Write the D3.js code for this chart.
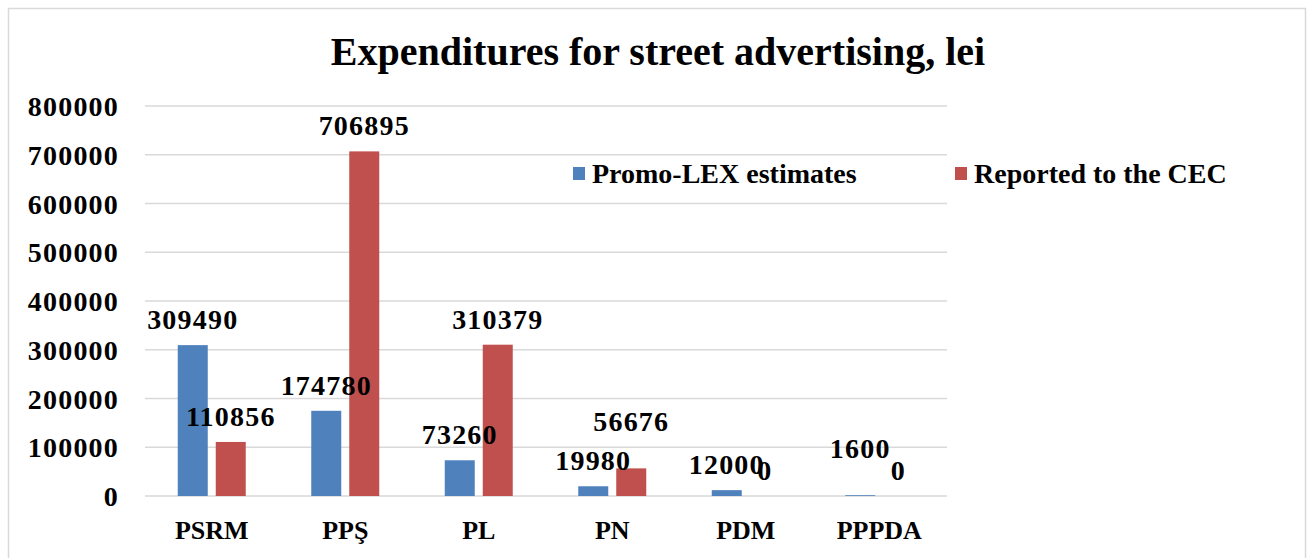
<!DOCTYPE html>
<html>
<head>
<meta charset="utf-8">
<script src="https://cdn.jsdelivr.net/npm/d3@7"></script>
<style>
  body { margin: 0; background: #fff; }
  svg text { font-family: "Liberation Serif", "Times New Roman", serif; font-weight: bold; fill: #000; }
</style>
</head>
<body>
<div id="chart"></div>
<script>
// data
const parties = ['PSRM', 'PPŞ', 'PL', 'PN', 'PDM', 'PPPDA'];
const seriesNames = ['Promo-LEX estimates', 'Reported to the CEC'];
const promoLex = [309490, 174780, 73260, 19980, 12000, 1600];
const reportedCEC = [110856, 706895, 310379, 56676, 0, 0];
const yTicks = [0, 100000, 200000, 300000, 400000, 500000, 600000, 700000, 800000];

const colors = ['#4f81bd', '#c0504d'];
// labels that were moved up by hand in the original to avoid overlaps
const liftedLabels = { 'PN|1': 21, 'PPPDA|0': 21 };

const width = 1310, height = 558;
const margin = { left: 145, right: 364, top: 106, bottom: 62 };

const svg = d3.select('#chart').append('svg')
    .attr('width', width)
    .attr('height', height);

// outer frame
svg.append('rect')
    .attr('x', 8.5).attr('y', 8.5)
    .attr('width', 1297).attr('height', 560)
    .attr('fill', 'none')
    .attr('stroke', '#d9d9d9')
    .attr('stroke-width', 1.5);

svg.append('text')
    .attr('x', 658).attr('y', 65)
    .attr('text-anchor', 'middle')
    .style('font-size', '40px')
    .text('Expenditures for street advertising, lei');

const x = d3.scaleBand()
    .domain(parties)
    .range([margin.left, width - margin.right]);

const y = d3.scaleLinear()
    .domain([0, 800000])
    .range([height - margin.bottom, margin.top]);

// gridlines
svg.append('g')
    .selectAll('line').data(yTicks).enter()
    .append('line')
    .attr('x1', margin.left).attr('x2', width - margin.right + 1)
    .attr('y1', d => y(d)).attr('y2', d => y(d))
    .attr('stroke', '#d9d9d9')
    .attr('stroke-width', 1.5);

// y axis labels
const yAxis = svg.append('g')
    .attr('transform', `translate(${margin.left - 26},0)`)
    .call(d3.axisLeft(y).tickValues(yTicks).tickFormat(d3.format('d')).tickSize(0).tickPadding(0));
yAxis.select('.domain').remove();
yAxis.selectAll('text')
    .style('font-size', '28px')
    .style('letter-spacing', '1.2px')
    .style('font-family', '"Liberation Serif", serif')
    .attr('dy', '0.34em');

// x axis labels
const xAxis = svg.append('g')
    .attr('transform', `translate(0,${y(0)})`)
    .call(d3.axisBottom(x).tickSize(0).tickPadding(0));
xAxis.select('.domain').remove();
xAxis.selectAll('text')
    .style('font-size', '26px')
    .style('font-family', '"Liberation Serif", serif')
    .attr('y', 43)
    .attr('dy', 0);

const barW = 30, gap = 8;
const series = [promoLex, reportedCEC];

const rows = [];
parties.forEach((p, i) => {
    series.forEach((s, k) => rows.push({ party: p, k: k, value: s[i] }));
});

const barX = d => x(d.party) + x.bandwidth() / 2 + (d.k === 0 ? -gap / 2 - barW : gap / 2);

svg.append('g')
    .selectAll('rect').data(rows).enter()
    .append('rect')
    .attr('x', barX)
    .attr('y', d => y(d.value))
    .attr('width', barW)
    .attr('height', d => y(0) - y(d.value))
    .attr('fill', d => colors[d.k]);

svg.append('g')
    .selectAll('text').data(rows).enter()
    .append('text')
    .attr('x', d => barX(d) + barW / 2)
    .attr('y', d => y(d.value) - 16 - (liftedLabels[d.party + '|' + d.k] || 0))
    .attr('text-anchor', 'middle')
    .style('font-size', '28px')
    .style('letter-spacing', '1.2px')
    .text(d => d.value);

// legend
const legendItems = [{ name: seriesNames[0], x: 573 }, { name: seriesNames[1], x: 955 }];
const legend = svg.append('g').selectAll('g').data(legendItems).enter()
    .append('g')
    .attr('transform', d => `translate(${d.x},174)`);
legend.append('rect')
    .attr('x', 0).attr('y', -7)
    .attr('width', 12).attr('height', 13)
    .attr('fill', (d, i) => colors[i]);
legend.append('text')
    .attr('x', 19).attr('y', 9)
    .style('font-size', '28px')
    .text(d => d.name);
</script>
</body>
</html>
